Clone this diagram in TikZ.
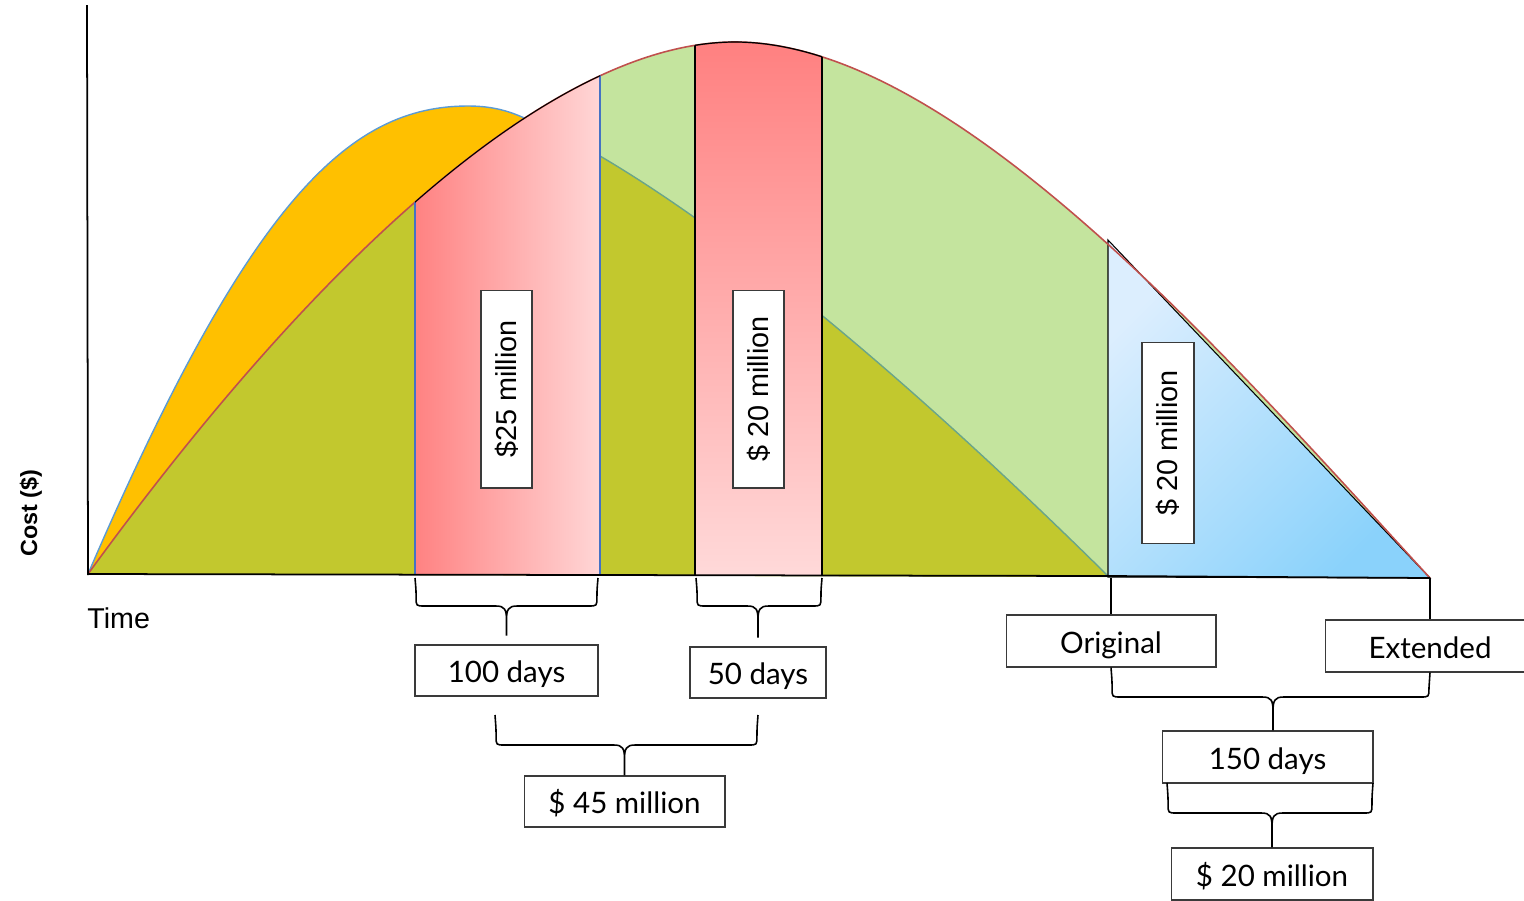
\documentclass[tikz,border=0pt]{standalone}
\usepackage{fontspec}
\setmainfont{Liberation Sans}
\newfontfamily\latofont{Lato}
\usetikzlibrary{calc}

\definecolor{cOrange}{HTML}{FFC000}
\definecolor{cBlueLine}{HTML}{5B9BD5}
\definecolor{cLightGreen}{HTML}{C4E49E}
\definecolor{cOlive}{HTML}{C2C82E}
\definecolor{cTeal}{HTML}{6AA58A}
\definecolor{cRedLine}{HTML}{C0504D}
\definecolor{cPinkA}{HTML}{FF8282}
\definecolor{cPinkB}{HTML}{FFD6D6}
\definecolor{cPinkTop}{HTML}{FF8080}
\definecolor{cPinkBot}{HTML}{FFD9D9}
\definecolor{cSkyA}{HTML}{DCEEFE}
\definecolor{cSkyB}{HTML}{8AD2FB}
\definecolor{cEdge}{HTML}{4472C4}
\definecolor{cBox}{HTML}{3A3A3A}

% total cost curve (planned + added work)
\def\redpath{(88,574) .. controls (320,255) and (555,42) .. (735,42) .. controls (955,42) and (1230,360) .. (1430,578)}
% cost curve of the compressed schedule
\def\bluepath{(88,574) .. controls (250,198) and (350,106) .. (468,106) .. controls (495,106) and (515,112) .. (540,126)}
% lower cost curve
\def\olivepath{(600,156) .. controls (760,250) and (950,420) .. (1108,576)}

% brace: left end, right end, stem end, point giving the bar height
\newcommand\curly[4]{%
  \draw[bracestyle] let \p1=(#1), \p2=(#2), \p3=(#3), \p4=(#4) in
    (\p1) .. controls (\x1+0.6pt,\y4+9pt) .. (\x1+0.6pt,\y4+5pt) .. controls (\x1+0.6pt,\y4) .. (\x1+5.6pt,\y4)
      -- (\x3-6pt,\y4) .. controls (\x3-1pt,\y4) and (\x3,\y4-2pt) .. (\x3,\y4-8pt) -- (\p3)
    (\p2) .. controls (\x2-0.6pt,\y4+9pt) .. (\x2-0.6pt,\y4+5pt) .. controls (\x2-0.6pt,\y4) .. (\x2-5.6pt,\y4)
      -- (\x3+6pt,\y4) .. controls (\x3+1pt,\y4) and (\x3,\y4-2pt) .. (\x3,\y4-8pt);}

\begin{document}
\begin{tikzpicture}[x=0.02cm, y=-0.02cm,
  bracestyle/.style={draw=black, line width=0.9pt},
  lbl/.style={draw=cBox, fill=white, line width=0.6pt, inner sep=0pt,
    text height=14pt, text depth=0pt,
    font=\latofont\fontsize{16.8}{20}\selectfont},
  vlbl/.style={draw=cBox, fill=white, line width=0.6pt, inner sep=0pt, rotate=90,
    minimum width=3.96cm, minimum height=1.02cm,
    font=\fontsize{16.4}{20}\selectfont},
  axislbl/.style={font=\fontsize{16.3}{20}\selectfont, inner sep=0pt}]

\useasboundingbox (0,0) rectangle (1524,900);

% --- areas under the curves ---
\fill[cOrange] \bluepath -- (540,574) -- cycle;
\draw[cBlueLine, line width=0.8pt] \bluepath;
\fill[cLightGreen] \redpath -- cycle;
\begin{scope}
  \clip \redpath -- cycle;
  \fill[cOlive] (80,590) -- (80,0) -- (500,0) -- \olivepath -- cycle;
\end{scope}
\draw[cTeal, line width=0.8pt] \olivepath;

% --- added-cost bands ---
\begin{scope}
  \clip \redpath -- cycle;
  \shade[left color=cPinkA, right color=cPinkB] (415,0) rectangle (600,575);
  \shade[top color=cPinkTop, bottom color=cPinkBot] (695,40) rectangle (822,575);
\end{scope}

% --- extension triangle ---
\shade[top color=cSkyA, bottom color=cSkyB, shading angle=45]
  (1108,240) -- (1108,577) -- (1430,578) -- cycle;
\draw[black, line width=0.6pt] (1108,240) -- (1108,577) -- (1430,578) -- cycle;

\draw[cRedLine, line width=0.9pt] \redpath;

% band outlines
\begin{scope}
  \clip \redpath -- cycle;
  \draw[cEdge, line width=1pt] (415,0) -- (415,575) (600,0) -- (600,575);
  \draw[black, line width=0.7pt] (695,0) -- (695,575) (822,0) -- (822,575);
\end{scope}
\begin{scope}
  \clip (415,0) rectangle (600,580);
  \draw[black, line width=0.6pt] \redpath;
\end{scope}
\begin{scope}
  \clip (695,0) rectangle (822,580);
  \draw[black, line width=0.7pt] \redpath;
\end{scope}

% --- axes ---
\draw[black, line width=1pt] (87,5) -- (88,575);
\draw[black, line width=1pt] (88,574) -- (1108,576) -- (1430,578);

\node[axislbl, font=\bfseries\fontsize{13.3}{16}\selectfont, rotate=90] (cost) at (31,513) {Cost (\$)};
\node[axislbl, anchor=west] (time) at (87,618) {Time};

% --- amount labels inside the bands ---
\node[vlbl] (v25) at (506.5,389) {\$25 million};
\node[vlbl] (v20a) at (758.5,389) {\$ 20 million};
\node[vlbl, minimum width=4.02cm, minimum height=1.04cm] (v20b) at (1168,443) {\$ 20 million};

% --- duration and cost labels ---
\node[lbl, minimum width=3.66cm, minimum height=1.02cm] (d100) at (506.5,670.5) {100 days};
\node[lbl, minimum width=2.72cm, minimum height=1.02cm] (d50) at (758,672.5) {50 days};
\node[lbl, minimum width=4.02cm, minimum height=1.02cm] (m45) at (624.5,801.5) {\$ 45 million};
\node[lbl, minimum width=4.2cm, minimum height=1.04cm] (orig) at (1111,641) {Original};
\node[lbl, minimum width=4.2cm, minimum height=1.04cm] (ext) at (1430,646) {Extended};
\node[lbl, minimum width=4.22cm, minimum height=1.04cm] (d150) at (1267.5,757) {150 days};
\node[lbl, minimum width=4.04cm, minimum height=1.04cm] (m20) at (1272,874) {\$ 20 million};

% --- brace end points ---
\coordinate (r1l) at (415,578);
\coordinate (r1r) at (598,578);
\coordinate (r1bar) at (507,606);
\coordinate (r2l) at (696,578);
\coordinate (r2r) at (822,578);
\coordinate (r2bar) at (759,606);
\coordinate (sl) at (495,715);
\coordinate (sr) at (758,715);
\coordinate (sbar) at (626,745);
\coordinate (ebar) at (1273,697);
\coordinate (dl) at (1167,783);
\coordinate (dr) at (1373,783);
\coordinate (dbar) at (1270,813);
\coordinate (tOrig) at (1111,578);
\coordinate (tExt) at (1430,578);

\curly{r1l}{r1r}{[yshift=5pt]d100.north}{r1bar}
\curly{r2l}{r2r}{[yshift=5pt]d50.north}{r2bar}
\curly{sl}{sr}{m45.north}{sbar}
\curly{orig.south}{ext.south}{d150.north -| ebar}{ebar}
\curly{dl}{dr}{m20.north}{dbar}

\draw[black, line width=0.9pt] (tOrig) -- (orig.north);
\draw[black, line width=0.9pt] (tExt) -- (ext.north);

\end{tikzpicture}
\end{document}
